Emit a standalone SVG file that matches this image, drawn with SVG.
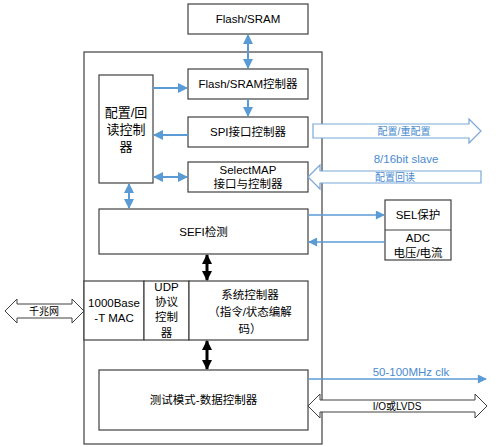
<svg xmlns="http://www.w3.org/2000/svg" width="500" height="447" viewBox="0 0 500 447">
<defs>
<style>
.box{fill:#fff;stroke:#404040;stroke-width:1.2}
.t{font-family:"Liberation Sans","Noto Sans CJK SC",sans-serif;font-size:11.5px;fill:#000;text-anchor:middle}
.tb{font-family:"Liberation Sans","Noto Sans CJK SC",sans-serif;font-size:11.5px;fill:#4a8bd0;text-anchor:middle}
.ts{font-family:"Liberation Sans","Noto Sans CJK SC",sans-serif;font-size:10px;text-anchor:middle}
.bl{stroke:#5b9bd5;stroke-width:2;fill:none}
.bl2{stroke:#5b9bd5;stroke-width:1.3;fill:none}
.bk{stroke:#000;stroke-width:3;fill:none}
.hol{fill:#fff;stroke:#404040;stroke-width:1}
.holb{fill:#fff;stroke:#7ba7d9;stroke-width:1.2}
</style>
<marker id="ab" viewBox="0 0 10 10" refX="9" refY="5" markerWidth="10" markerHeight="10" markerUnits="userSpaceOnUse" orient="auto-start-reverse"><path d="M0,0L10,5L0,10z" fill="#5b9bd5"/></marker>
<marker id="ab2" viewBox="0 0 10 10" refX="9" refY="5" markerWidth="12" markerHeight="9" markerUnits="userSpaceOnUse" orient="auto-start-reverse"><path d="M0,0L10,5L0,10z" fill="#5b9bd5"/></marker>
<marker id="ak" viewBox="0 0 10 10" refX="9" refY="5" markerWidth="10" markerHeight="12" markerUnits="userSpaceOnUse" orient="auto-start-reverse"><path d="M0,0L10,5L0,10z" fill="#000"/></marker>
</defs>
<rect width="500" height="447" fill="#fff"/>

<g id="outer"><rect class="box" x="84" y="52" width="238" height="392"/></g>

<g id="flash-sram"><rect class="box" x="188" y="4" width="120" height="30"/><text class="t" x="248" y="23">Flash/SRAM</text></g>
<g id="flash-ctrl"><rect class="box" x="188" y="69" width="120" height="30"/><text class="t" x="248" y="88">Flash/SRAM控制器</text></g>
<g id="spi"><rect class="box" x="188" y="117" width="120" height="30"/><text class="t" x="248" y="136">SPI接口控制器</text></g>
<g id="selectmap"><rect class="box" x="188" y="162" width="120" height="30"/><text class="t" x="248" y="174">SelectMAP</text><text class="t" x="248" y="188">接口与控制器</text></g>
<g id="config"><rect class="box" x="99" y="75" width="54" height="108"/><text class="t" x="126" y="117" style="font-size:13px">配置/回</text><text class="t" x="126" y="134" style="font-size:13px">读控制</text><text class="t" x="126" y="151" style="font-size:13px">器</text></g>
<g id="sefi"><rect class="box" x="99" y="209" width="209" height="45"/><text class="t" x="203.5" y="236">SEFI检测</text></g>
<g id="mac"><rect class="box" x="84" y="281" width="60" height="59"/><text class="t" x="114" y="307">1000Base</text><text class="t" x="114" y="322">-T MAC</text></g>
<g id="udp"><rect class="box" x="144" y="281" width="45" height="59"/><text class="t" x="166.5" y="291">UDP</text><text class="t" x="166.5" y="306">协议</text><text class="t" x="166.5" y="321">控制</text><text class="t" x="166.5" y="337">器</text></g>
<g id="sysctrl"><rect class="box" x="189" y="281" width="119" height="59"/><text class="t" x="250" y="299">系统控制器</text><text class="t" x="250" y="316">（指令/状态编解</text><text class="t" x="250" y="333">码）</text></g>
<g id="testmode"><rect class="box" x="99" y="370" width="209" height="60"/><text class="t" x="203.5" y="404">测试模式-数据控制器</text></g>
<g id="sel"><rect class="box" x="385" y="200" width="66" height="60"/><line x1="385" y1="230" x2="451" y2="230" stroke="#404040" stroke-width="1.2"/><text class="t" x="418" y="219">SEL保护</text><text class="t" x="418" y="242">ADC</text><text class="t" x="418" y="257">电压/电流</text></g>

<g id="connectors">
<line class="bl" x1="248" y1="35" x2="248" y2="68" marker-start="url(#ab)" marker-end="url(#ab)"/>
<line class="bl" x1="153" y1="88" x2="187" y2="88" marker-end="url(#ab)"/>
<line class="bl" x1="248" y1="99" x2="248" y2="116" marker-end="url(#ab)"/>
<line class="bl" x1="188" y1="135" x2="154" y2="135" marker-end="url(#ab)"/>
<line class="bl" x1="154" y1="177" x2="187" y2="177" marker-start="url(#ab)" marker-end="url(#ab)"/>
<line class="bl" x1="129" y1="184" x2="129" y2="208" marker-start="url(#ab)" marker-end="url(#ab)"/>
<line class="bk" x1="207" y1="255" x2="207" y2="280" marker-start="url(#ak)" marker-end="url(#ak)"/>
<line class="bk" x1="207" y1="341" x2="207" y2="369" marker-start="url(#ak)" marker-end="url(#ak)"/>
<line class="bl2" x1="308" y1="215" x2="384" y2="215" marker-end="url(#ab2)"/>
<line class="bl2" x1="385" y1="242" x2="309" y2="242" marker-end="url(#ab2)"/>
<line class="bl2" x1="308" y1="379" x2="486" y2="379" marker-end="url(#ab2)"/>
<text class="tb" x="411" y="376">50-100MHz clk</text>
<path class="hol" d="M308,406 L320,394 L320,400 L475,400 L475,394 L487,406 L475,418 L475,412 L320,412 L320,418 Z"/>
<text class="ts" x="397" y="410">I/O或LVDS</text>
<path class="hol" d="M5,311 L17,299 L17,304 L72,304 L72,299 L84,311 L72,323 L72,318 L17,318 L17,323 Z"/>
<text class="ts" x="44" y="315">千兆网</text>
<path class="holb" d="M313,124 L469,124 L469,119 L481,131 L469,143 L469,138 L313,138 Z"/>
<text class="ts" x="404" y="135" fill="#4a8bd0">配置/重配置</text>
<path class="holb" d="M308,177 L320,165 L320,171 L481,171 L481,183 L320,183 L320,189 Z"/>
<text class="ts" x="395" y="181" fill="#4a8bd0">配置回读</text>
<text class="tb" x="406" y="163">8/16bit slave</text>
</g>
</svg>
